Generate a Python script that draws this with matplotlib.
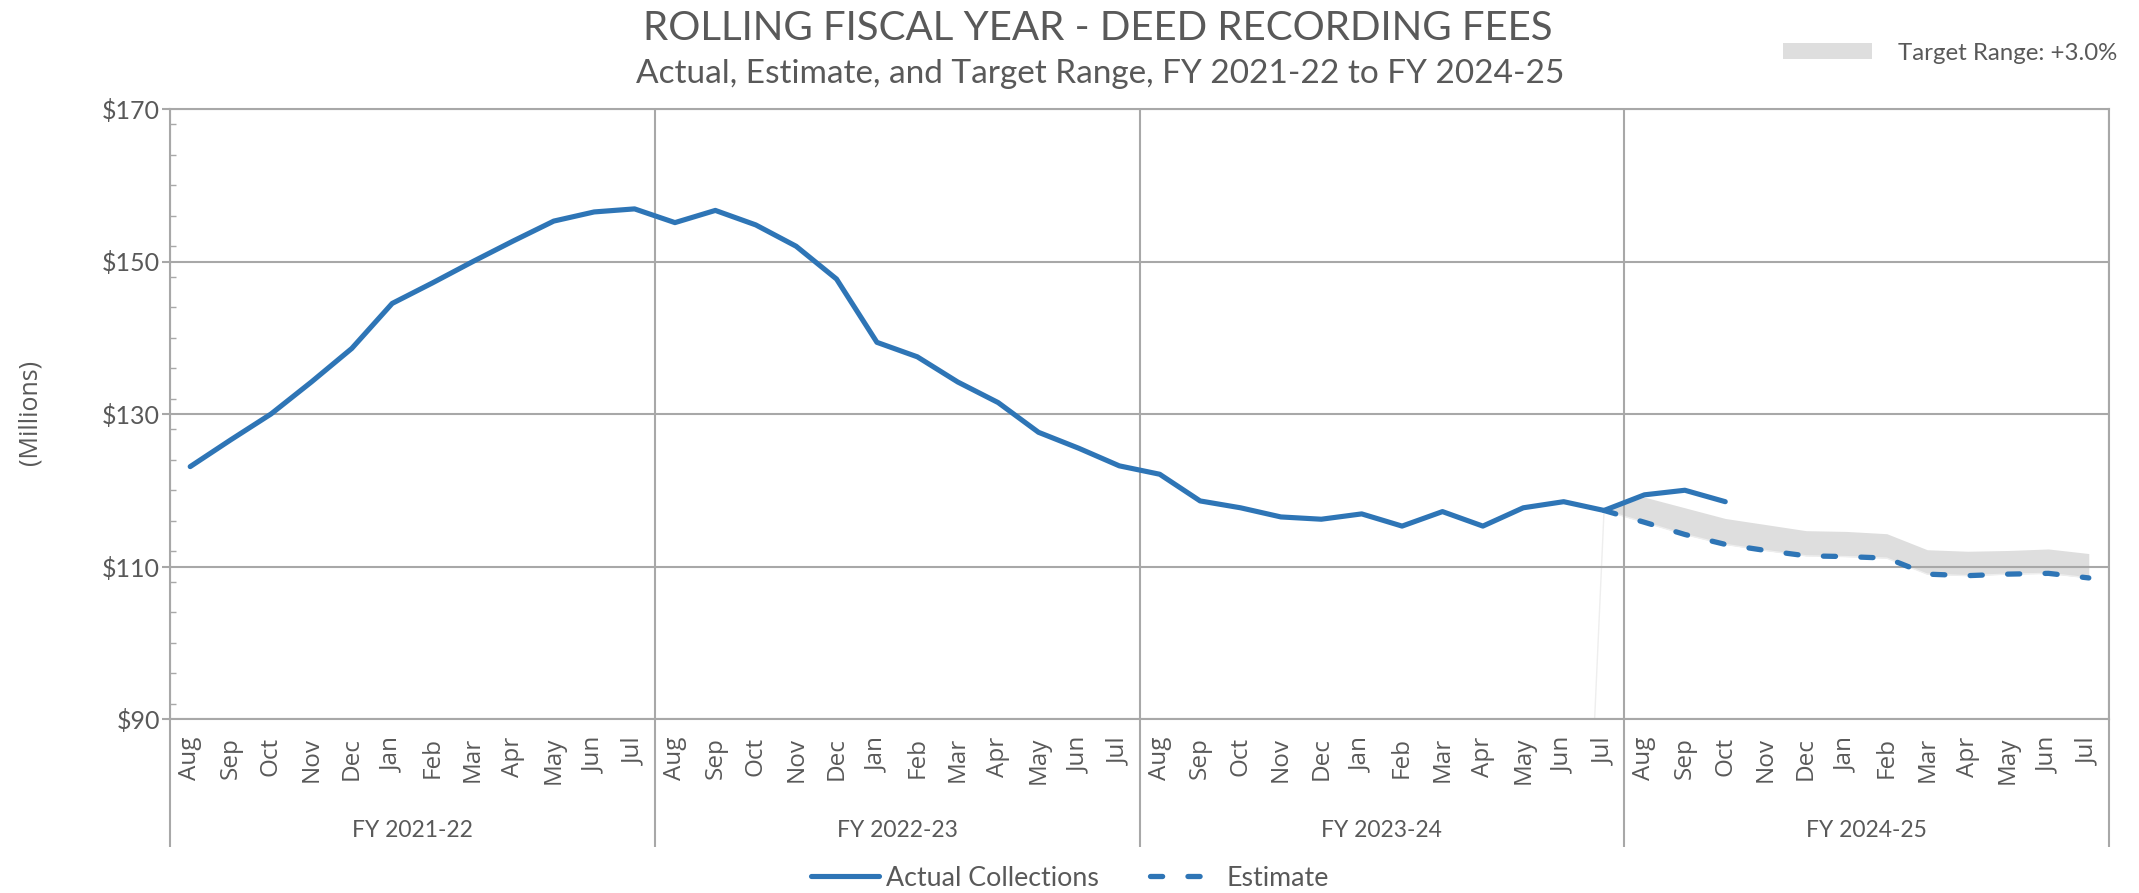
import numpy as np
import matplotlib.pyplot as plt
import matplotlib.transforms as mtransforms
from matplotlib.lines import Line2D
from matplotlib.patches import Patch
from matplotlib.ticker import FixedLocator, MultipleLocator

# --- data (millions of dollars, rolling fiscal year) ---
months = ['Aug', 'Sep', 'Oct', 'Nov', 'Dec', 'Jan', 'Feb', 'Mar', 'Apr', 'May', 'Jun', 'Jul']
fiscal_years = ['FY 2021-22', 'FY 2022-23', 'FY 2023-24', 'FY 2024-25']
nan = np.nan

actual = [123.1, 126.6, 130.0, 134.2, 138.6, 144.5, 147.2, 150.0, 152.7, 155.3, 156.5, 156.9,
          155.1, 156.7, 154.8, 152.0, 147.7, 139.4, 137.5, 134.2, 131.5, 127.6, 125.5, 123.2,
          122.1, 118.6, 117.7, 116.5, 116.2, 116.9, 115.3, 117.2, 115.3, 117.7, 118.5, 117.35,
          119.4, 120.0, 118.5, nan, nan, nan, nan, nan, nan, nan, nan, nan]

estimate = [nan] * 35 + [117.35,
            115.8, 114.2, 112.9, 112.1, 111.4, 111.3, 111.1, 109.0, 108.8, 109.0, 109.1, 108.5]

target_low = [nan] * 34 + [0.0, 117.35,
              115.8, 114.2, 112.9, 112.1, 111.4, 111.3, 111.1, 109.0, 108.8, 109.0, 109.1, 108.5]
target_high = [nan] * 35 + [117.35,
               119.1, 117.7, 116.3, 115.5, 114.7, 114.6, 114.3, 112.2, 112.0, 112.1, 112.3, 111.7]

x = np.arange(len(months) * len(fiscal_years))
actual = np.array(actual)
estimate = np.array(estimate)
target_low = np.array(target_low)
target_high = np.array(target_high)

blue = '#2E75B6'
gridc = '#a8a8a8'
textc = '#595959'

plt.rcParams['font.family'] = ['Lato', 'DejaVu Sans']

W, H = 2139, 893
fig = plt.figure(figsize=(W / 100, H / 100), dpi=100)
ax = fig.add_axes([170 / W, 1 - 719 / H, (2109 - 170) / W, 610 / H])

# target range band
band = ~np.isnan(target_high)
ax.fill_between(x, np.where(band, target_low, nan), target_high, where=band,
                color='#c8c8c8', alpha=0.6, lw=0, zorder=1)
ax.plot(x, target_low, color='#eeeeee', lw=1, zorder=1.2)

ax.plot(x, actual, color=blue, lw=3.7, solid_joinstyle='round', solid_capstyle='round', zorder=3)
ax.plot(x, estimate, color=blue, lw=3.8, ls=(0, (2.3, 4.8)), dash_capstyle='round', zorder=3)

ax.set_xlim(-0.5, len(x) - 0.5)
ax.set_ylim(90, 170)

# y axis
ax.yaxis.set_major_locator(FixedLocator(range(90, 171, 20)))
ax.yaxis.set_minor_locator(MultipleLocator(4))
ax.set_yticklabels(['$%d' % v for v in range(90, 171, 20)])
ax.tick_params(axis='y', which='major', direction='out', length=6, width=1.5, color=gridc,
               labelsize=18, labelcolor=textc, pad=1)
ax.tick_params(axis='y', which='minor', direction='in', length=4, width=1, color=gridc)
ax.yaxis.grid(True, which='major', color=gridc, lw=1.5, zorder=0.5)

# x axis: months, fiscal-year separators
ax.set_xticks(x)
ax.set_xticklabels(months * len(fiscal_years), rotation=90, family='Open Sans')
ax.xaxis.set_minor_locator(FixedLocator([i * 12 - 0.5 for i in range(len(fiscal_years) + 1)]))
ax.tick_params(axis='x', which='major', length=0, labelsize=17.5, labelcolor=textc, pad=13)
ax.tick_params(axis='x', which='minor', direction='out', length=92, width=1.5, color=gridc)
ax.xaxis.grid(True, which='minor', color=gridc, lw=1.5, zorder=0.5)

trans = mtransforms.blended_transform_factory(ax.transData, ax.transAxes)
for i, fy in enumerate(fiscal_years):
    ax.text(i * 12 + 5.5, -0.182, fy, transform=trans, ha='center', va='center',
            fontsize=16.5, color=textc)

for s in ax.spines.values():
    s.set_color(gridc)
    s.set_linewidth(1.5)

fig.text(1098 / W, 1 - 28 / H, 'ROLLING FISCAL YEAR - DEED RECORDING FEES', ha='center', va='center',
         fontsize=29, fontweight='normal', color=textc)
fig.text(1100 / W, 1 - 74 / H, 'Actual, Estimate, and Target Range, FY 2021-22 to FY 2024-25',
         ha='center', va='center', fontsize=24, color=textc)
fig.text(30 / W, 1 - 412 / H, '(Millions)', rotation=90, ha='center', va='center',
         fontsize=18, family='Open Sans', color=textc)

fig.legend(handles=[Patch(facecolor='#dedede', edgecolor='none')], labels=['Target Range: +3.0%'],
           loc='center', bbox_to_anchor=(1950 / W, 1 - 53 / H), frameon=False, fontsize=17.3,
           handlelength=3.7, handleheight=0.65, handletextpad=1.1, borderpad=0, labelcolor=textc)

handles = [Line2D([], [], color=blue, lw=3.7, solid_capstyle='round'),
           Line2D([], [], color=blue, lw=3.8, ls=(0, (2.3, 4.8)), dash_capstyle='round')]
fig.legend(handles=handles, labels=['Actual Collections', 'Estimate'], loc='center',
           bbox_to_anchor=(0.5, 1 - 878 / H), ncol=2, frameon=False, fontsize=19.3,
           handlelength=2.55, handletextpad=0.28, columnspacing=1.9, borderpad=0, labelcolor=textc)

fig.savefig('out.png', dpi=100)
